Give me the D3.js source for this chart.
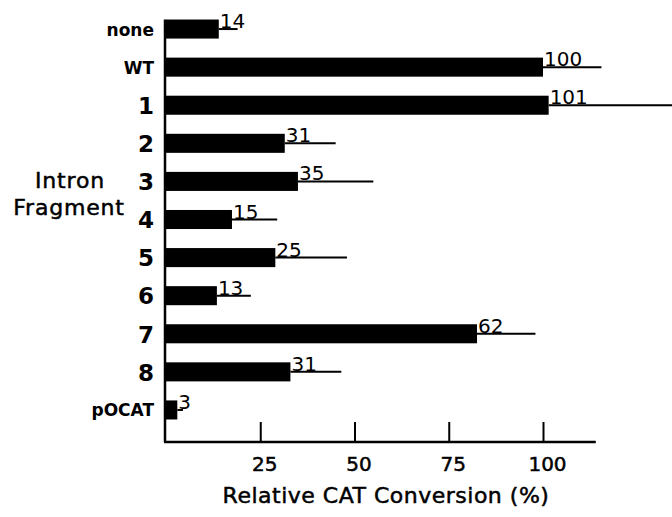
<!DOCTYPE html>
<html>
<head>
<meta charset="utf-8">
<script src="https://cdn.jsdelivr.net/npm/d3@7"></script>
<style>
  body { margin:0; background:#fff; }
  text { font-family: "DejaVu Sans", sans-serif; fill:#000; }
  .thick { stroke:#000; stroke-width:0.5px; }
</style>
</head>
<body>
<svg></svg>
<script>

var categories = ["none","WT","1","2","3","4","5","6","7","8","pOCAT"];
// bar lengths as drawn
var values = [14, 100, 101.5, 31.5, 35, 17.5, 29, 13.5, 82.5, 33, 3];
// numbers printed next to the bars
var valueLabels = ["14","100","101","31","35","15","25","13","62","31","3"];
// upper end of the error line
var errorTops = [19, 115.5, 135, 45, 55, 29.5, 48, 22.5, 98, 46.5, 4.5];
var tickValues = [25, 50, 75, 100];
var axisMax = 114;

var svgwidth = 672;
var svgheight = 517;

var svg = d3.select('svg').attr('width',svgwidth).attr('height',svgheight);

var baseline = 442;

var xScale = d3.scaleLinear()
               .domain([0,100])
               .range([166,543]);

var yScale = d3.scaleBand()
               .domain(categories)
               .range([10,429])
               .paddingInner(0.5)
               .paddingOuter(0.25);

var data = categories.map(function(c,i){
  return {cat:c, value:values[i], label:valueLabels[i], err:errorTops[i]};
});

var mid = function(d){ return yScale(d.cat) + yScale.bandwidth()/2; };

// error lines
svg.append('g').selectAll('line')
   .data(data)
   .enter()
   .append('line')
   .attr('x1', function(d){return xScale(d.value);})
   .attr('x2', function(d){return xScale(d.err);})
   .attr('y1', function(d){return mid(d);})
   .attr('y2', function(d){return mid(d);})
   .attr('stroke','#000')
   .attr('stroke-width',2);

// bars
svg.append('g').selectAll('rect')
   .data(data)
   .enter()
   .append('rect')
   .attr('x', xScale(0))
   .attr('y', function(d){return yScale(d.cat);})
   .attr('width', function(d){return xScale(d.value) - xScale(0);})
   .attr('height', yScale.bandwidth())
   .attr('fill','#000');

// value labels
svg.append('g').selectAll('text')
   .data(data)
   .enter()
   .append('text')
   .attr('x', function(d){return xScale(d.value) + 1;})
   .attr('y', function(d){return mid(d) - 1;})
   .style('font-size','20px')
   .text(function(d){return d.label;});

// category labels
svg.append('g').selectAll('text')
   .data(data)
   .enter()
   .append('text')
   .attr('x', 154)
   .attr('y', function(d){return mid(d);})
   .attr('dy','0.38em')
   .attr('text-anchor','end')
   .style('font-weight','bold')
   .style('font-size', function(d){return isNaN(+d.cat) ? '17px' : '23px';})
   .text(function(d){return d.cat;});

// y axis line
svg.append('line')
   .attr('x1', xScale(0) - 1).attr('x2', xScale(0) - 1)
   .attr('y1', yScale(categories[0])).attr('y2', baseline)
   .attr('stroke','#000').attr('stroke-width',2.5);

// x axis
var xAxis = d3.axisBottom(xScale)
              .tickValues(tickValues)
              .tickSizeInner(-20)
              .tickSizeOuter(0)
              .tickPadding(15);

var gx = svg.append('g').classed('xAxis',true)
            .attr('transform','translate(0,'+baseline+')')
            .call(xAxis);
gx.select('.domain').remove();
gx.selectAll('.tick line').attr('stroke','#000').attr('stroke-width',2);
gx.selectAll('.tick text')
  .classed('thick',true)
  .attr('dx', 4)
  .style('font-size','20px')
  .style('font-family','"DejaVu Sans", sans-serif')
  .attr('fill','#000');

svg.append('line')
   .attr('x1', xScale(0) - 2).attr('x2', xScale(axisMax))
   .attr('y1', baseline).attr('y2', baseline)
   .attr('stroke','#000').attr('stroke-width',2.5);

// axis titles
svg.append('text')
   .classed('thick',true)
   .attr('x', 386).attr('y', 503)
   .attr('text-anchor','middle')
   .style('font-size','22px')
   .style('letter-spacing','0.5px')
   .text('Relative CAT Conversion (%)');

svg.append('text')
   .classed('thick',true)
   .attr('x', 70).attr('y', 188)
   .attr('text-anchor','middle')
   .style('font-size','22px')
   .style('letter-spacing','0.8px')
   .text('Intron');

svg.append('text')
   .classed('thick',true)
   .attr('x', 69).attr('y', 215)
   .attr('text-anchor','middle')
   .style('font-size','22px')
   .style('letter-spacing','0.8px')
   .text('Fragment');

</script>
</body>
</html>
